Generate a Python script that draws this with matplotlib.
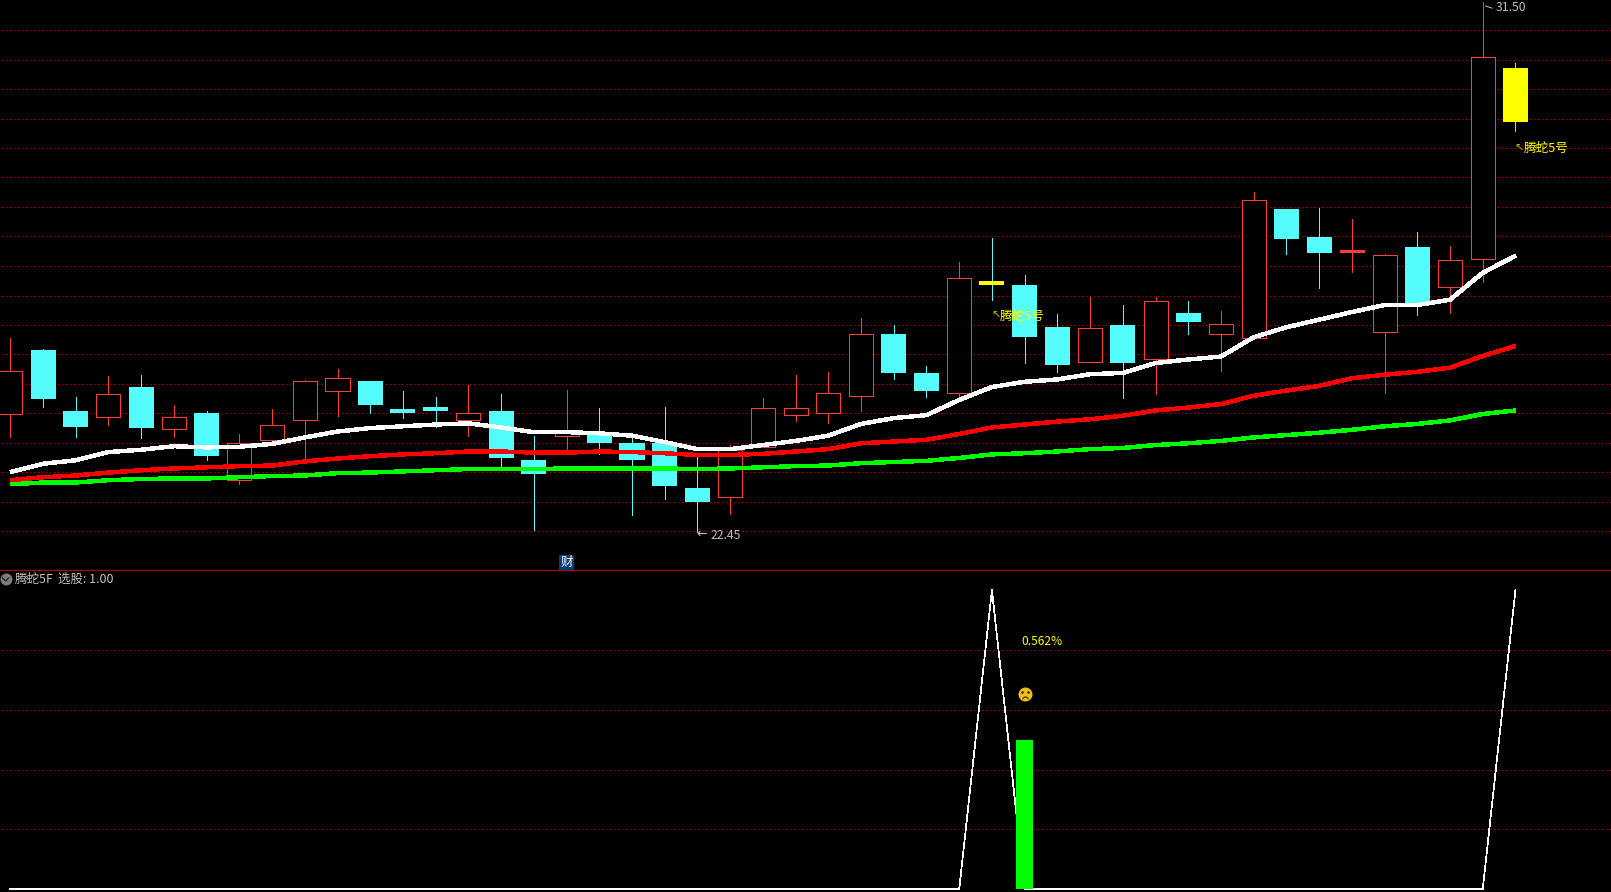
import matplotlib
matplotlib.use("Agg")
import matplotlib.pyplot as plt
import numpy as np
from matplotlib.path import Path
from matplotlib.transforms import offset_copy

plt.rcParams["font.family"] = ["Noto Sans CJK SC", "DejaVu Sans"]

# ===== 数据（K线）=====
opens = [24.46, 25.55, 24.51, 24.40, 24.92, 24.21, 24.48, 23.34, 24.02, 24.36, 24.86, 25.02,
         24.54, 24.58, 24.35, 24.51, 23.67, 24.08, 24.15, 23.96, 23.96, 23.20, 23.05, 23.89,
         24.45, 24.47, 24.77, 25.82, 25.16, 24.81, 26.73, 26.66, 25.94, 25.35, 25.98, 25.40,
         26.18, 25.83, 25.76, 27.96, 27.48, 27.22, 25.86, 27.31, 26.62, 27.10, 30.37]
closes = [25.19, 24.72, 24.24, 24.80, 24.22, 24.40, 23.74, 23.96, 24.28, 25.02, 25.07, 24.61,
          24.48, 24.51, 24.47, 23.71, 23.44, 24.16, 23.96, 23.67, 23.23, 22.96, 23.85, 24.57,
          24.56, 24.81, 25.82, 25.16, 24.85, 26.78, 26.66, 25.77, 25.30, 25.92, 25.33, 26.38,
          26.03, 25.99, 28.12, 27.45, 27.21, 27.26, 27.17, 26.32, 27.08, 30.56, 29.44]
highs = [25.76, 25.57, 24.75, 25.11, 25.13, 24.61, 24.51, 24.12, 24.54, 25.04, 25.23, 25.02,
         24.85, 24.75, 24.95, 24.80, 24.08, 24.87, 24.56, 24.14, 24.58, 23.76, 23.93, 24.73,
         25.13, 25.18, 26.09, 25.98, 25.28, 27.05, 27.46, 26.83, 26.17, 26.46, 26.32, 26.46,
         26.39, 26.22, 28.25, 27.96, 27.98, 27.79, 27.19, 27.57, 27.33, 31.50, 30.45]
lows = [24.07, 24.58, 24.07, 24.27, 24.05, 24.07, 23.67, 23.26, 23.96, 23.67, 24.43, 24.48,
        24.39, 24.24, 24.08, 23.57, 22.48, 23.81, 23.78, 22.74, 23.01, 22.45, 22.75, 23.89,
        24.34, 24.31, 24.51, 25.06, 24.75, 24.70, 26.41, 25.33, 25.18, 25.35, 24.73, 24.80,
        25.82, 25.20, 25.76, 27.19, 26.61, 26.88, 24.82, 26.15, 26.18, 26.71, 29.29]
yellow_days = [30, 46]

# 均线
ma_white = [23.47, 23.61, 23.67, 23.81, 23.85, 23.91, 23.89, 23.90, 23.95, 24.06, 24.16, 24.22,
            24.25, 24.28, 24.30, 24.23, 24.15, 24.15, 24.13, 24.09, 23.98, 23.86, 23.86, 23.93,
            24.00, 24.09, 24.29, 24.39, 24.44, 24.70, 24.92, 25.01, 25.05, 25.14, 25.16, 25.33,
            25.39, 25.44, 25.77, 25.94, 26.07, 26.20, 26.32, 26.32, 26.41, 26.87, 27.16]
ma_red = [23.33, 23.38, 23.41, 23.46, 23.50, 23.53, 23.55, 23.57, 23.58, 23.65, 23.70, 23.74,
          23.77, 23.79, 23.82, 23.82, 23.80, 23.80, 23.82, 23.81, 23.79, 23.76, 23.76, 23.78,
          23.82, 23.86, 23.96, 23.99, 24.02, 24.12, 24.23, 24.28, 24.33, 24.37, 24.43, 24.52,
          24.57, 24.63, 24.77, 24.86, 24.94, 25.07, 25.13, 25.18, 25.25, 25.45, 25.62]
ma_green = [23.26, 23.29, 23.29, 23.33, 23.35, 23.36, 23.36, 23.38, 23.40, 23.41, 23.45, 23.46,
            23.48, 23.50, 23.52, 23.52, 23.52, 23.53, 23.53, 23.53, 23.53, 23.52, 23.53, 23.55,
            23.57, 23.58, 23.62, 23.64, 23.66, 23.71, 23.77, 23.79, 23.82, 23.86, 23.88, 23.93,
            23.96, 24.00, 24.06, 24.10, 24.14, 24.19, 24.25, 24.29, 24.35, 24.46, 24.52]

price_grid = [31.01, 30.51, 30.00, 29.50, 29.00, 28.50, 27.99, 27.49, 26.99, 26.48, 25.98, 25.48,
              24.97, 24.47, 23.97, 23.47, 22.96, 22.46]

# ===== 数据（副图）=====
pick_line = [0] * 30 + [1] + [0] * 15 + [1]
pick_bar_day = 31
pick_bar_value = 0.50
pick_grid = [0.2, 0.4, 0.6, 0.8]

RED = "#ff3c3c"
CYAN = "#54fcfc"
YELLOW = "#ffff00"
GRID = "#b00000"
GRAY = "#c0c0c0"
DOTS = (0, (0.8, 3.2))
PX = 0.72  # 1像素 = 0.72pt

days = np.arange(len(opens))
W, H = 1611, 892

fig = plt.figure(figsize=(W / 100, H / 100), dpi=100, facecolor="black")
ax = fig.add_axes([0, 1 - 570 / H, 1, 570 / H], facecolor="black")
ax2 = fig.add_axes([0, 0, 1, 322 / H], facecolor="black")
ax.set_zorder(3)

# ===== 主图 =====
for level in price_grid:
    ax.axhline(level, xmin=2 / W, color=GRID, lw=PX, ls=DOTS, antialiased=False, zorder=1)

for i in days:
    is_up = closes[i] > opens[i]
    wick_color = RED if is_up else CYAN
    ax.vlines(i, lows[i], highs[i], color=wick_color, lw=PX, antialiased=False, zorder=2)

    top = max(opens[i], closes[i])
    bottom = min(opens[i], closes[i])
    if is_up:
        # 十字星は中を塗りつぶす
        inner = RED if top - bottom < 0.05 else "black"
        ax.bar(i, top - bottom, bottom=bottom, width=0.735, facecolor=inner, edgecolor=RED,
               lw=PX * 0.8, antialiased=False, zorder=3)
    else:
        face = YELLOW if i in yellow_days else CYAN
        ax.bar(i, top - bottom, bottom=bottom, width=0.765, color=face, lw=0,
               antialiased=False, zorder=3)

ax.plot(days, ma_green, color="#00ff00", lw=3.4 * PX, antialiased=False, solid_capstyle="butt", zorder=4)
ax.plot(days, ma_red, color="#ff0000", lw=3.4 * PX, antialiased=False, solid_capstyle="butt", zorder=5)
ax.plot(days, ma_white, color="#ffffff", lw=3.4 * PX, antialiased=False, solid_capstyle="butt", zorder=6)

# 最高价 / 最低价
ax.annotate("31.50", xy=(45, 31.50), xytext=(13, -6), textcoords="offset pixels",
            color=GRAY, fontsize=8.8, va="center", zorder=7, annotation_clip=False)
ax.annotate("", xy=(45, 31.44), xytext=(12, -4), textcoords="offset pixels",
            arrowprops=dict(arrowstyle="-", color=GRAY, lw=PX), annotation_clip=False)
ax.annotate("22.45", xy=(21, 22.45), xytext=(13, -4), textcoords="offset pixels",
            color=GRAY, fontsize=8.8, va="center", zorder=7)
ax.annotate("←", xy=(21, 22.45), xytext=(-1, -2), textcoords="offset pixels",
            color=GRAY, fontsize=9, va="center", zorder=7, family="DejaVu Sans")

# 腾蛇5号 标记
for day, label_price in [(30, 26.13), (46, 28.99)]:
    ax.annotate("↖", xy=(day, label_price), xytext=(-1, 0), textcoords="offset pixels",
                color="#c8b400", fontsize=8, va="center", family="DejaVu Sans", zorder=7)
    ax.annotate("腾蛇5号", xy=(day, label_price), xytext=(8, 0), textcoords="offset pixels",
                color=YELLOW, fontsize=9.1, va="center", zorder=7)

ax.text(17, 21.93, "财", color="white", fontsize=9, ha="center", va="center", zorder=7,
        bbox=dict(facecolor="#0a3c78", edgecolor="none", pad=0.6))

ax.set_xlim(-0.315, 48.92)
ax.set_ylim(21.797, 31.526)
ax.set_xticks([])
ax.set_yticks([])
for side in ["top", "left", "right"]:
    ax.spines[side].set_visible(False)
ax.spines["bottom"].set_color("#b40000")
ax.spines["bottom"].set_linewidth(PX * 1.2)

# ===== 副图 =====
for level in pick_grid:
    ax2.axhline(level, xmin=2 / W, color=GRID, lw=PX, ls=DOTS, antialiased=False, zorder=1)

ax2.plot(days, pick_line, color="white", lw=PX * 0.7, antialiased=False, zorder=2)
ax2.bar(pick_bar_day, pick_bar_value, width=0.52, color="#00ff00", lw=0, antialiased=False, zorder=3)

ax2.annotate("0.562%", xy=(31, 0.827), xytext=(-3, 0), textcoords="offset pixels",
             color=YELLOW, fontsize=8.6, va="center", zorder=4)

# 哭脸
face_y = 0.652
ax2.plot(31, face_y, "o", ms=14 * PX, color="#eec015", mew=0, zorder=4)
for dx in (-3, 3):
    eye = offset_copy(ax2.transData, fig=fig, x=dx, y=2, units="dots")
    ax2.plot(31, face_y, "o", ms=2.6 * PX, color="#3c2c00", mew=0, transform=eye, zorder=5)
mouth = offset_copy(ax2.transData, fig=fig, x=0, y=-3, units="dots")
frown = Path([(-1, -0.5), (0, 0.9), (1, -0.5)], [Path.MOVETO, Path.CURVE3, Path.CURVE3])
ax2.plot(31, face_y, marker=frown, ms=6 * PX, mfc="none", mec="#3c2c00", mew=PX * 1.2,
         transform=mouth, zorder=5)

# 指标名称
ax2.text(15 / W, 1 - 9 / 322, "腾蛇5F", transform=ax2.transAxes, color=GRAY, fontsize=9, va="center")
ax2.text(58 / W, 1 - 9 / 322, "选股: 1.00", transform=ax2.transAxes, color=GRAY, fontsize=9, va="center")
ax2.plot([5.5 / W], [1 - 9 / 322], "o", ms=12 * PX, color="#7c7c7c", mew=0,
         transform=ax2.transAxes, clip_on=False)
ax2.plot([2.5 / W, 5.5 / W, 8.5 / W], [1 - 8 / 322, 1 - 11 / 322, 1 - 8 / 322], color="#222222",
         lw=1.3 * PX, transform=ax2.transAxes)

ax2.set_xlim(-0.315, 48.92)
ax2.set_ylim(-0.009, 1.0668)
ax2.set_xticks([])
ax2.set_yticks([])
for spine in ax2.spines.values():
    spine.set_visible(False)

fig.savefig("out.png", dpi=100, facecolor="black")
